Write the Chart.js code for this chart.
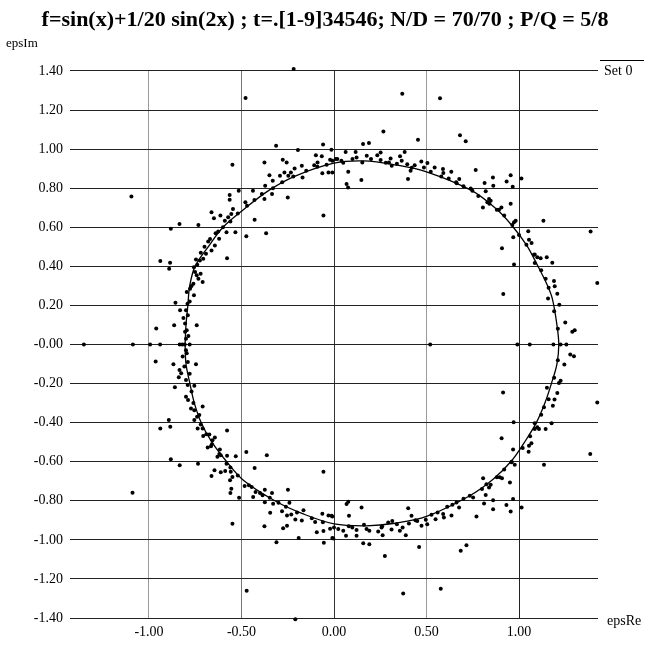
<!DOCTYPE html>
<html>
<head>
<meta charset="utf-8">
<script src="https://cdn.jsdelivr.net/npm/chart.js@4.4.0/dist/chart.umd.min.js"></script>
<style>
  body { margin: 0; background: #fff; }
  #wrap { width: 648px; height: 647px; }
</style>
</head>
<body>
<div id="wrap"><canvas id="grafico" width="648" height="647"></canvas></div>
<script>
const titulo = 'f=sin(x)+1/20 sin(2x) ; t=.[1-9]34546; N/D = 70/70 ; P/Q = 5/8';
const xTicks = [-1.0, -0.5, 0.0, 0.5, 1.0];
const xTickLabels = ['-1.00', '-0.50', '0.00', '0.50', '1.00'];
const yTickLabels = ['-1.40', '-1.20', '-1.00', '-0.80', '-0.60', '-0.40', '-0.20', '-0.00',
  '0.20', '0.40', '0.60', '0.80', '1.00', '1.20', '1.40'];

// curva (epsRe, epsIm)
const curva = [
  [-0.805, 0], [-0.80, 0.1], [-0.79, 0.2], [-0.78, 0.3], [-0.751, 0.40], [-0.68, 0.50], [-0.60, 0.60],
  [-0.49, 0.69], [-0.35, 0.79], [-0.21, 0.862], [0, 0.928], [0.16, 0.94], [0.33, 0.92], [0.5, 0.884],
  [0.74, 0.79], [0.87, 0.70], [0.955, 0.617], [1.04, 0.51], [1.10, 0.405], [1.15, 0.31], [1.18, 0.235],
  [1.205, 0.1], [1.215, 0], [1.205, -0.1], [1.175, -0.20], [1.14, -0.30], [1.094, -0.40], [1.03, -0.50],
  [0.96, -0.595], [0.86, -0.69], [0.734, -0.774], [0.5, -0.88], [0.33, -0.915], [0.176, -0.928],
  [0, -0.918], [-0.17, -0.866], [-0.32, -0.80], [-0.49, -0.695], [-0.58, -0.60], [-0.66, -0.50],
  [-0.716, -0.404], [-0.755, -0.30], [-0.778, -0.204], [-0.80, -0.1], [-0.805, 0]
];

// Set 0 - puntos
const puntosArriba = [
  [-0.218, 1.41], [-0.478, 1.262], [-1.095, 0.757], [-0.313, 1.017], [-0.195, 0.995], [-0.059, 1.024],
  [-0.098, 0.969], [-0.066, 0.963], [-0.014, 0.997], [0.009, 0.949], [-0.021, 0.946], [-0.089, 0.932],
  [-0.107, 0.918], [-0.063, 0.876], [-0.030, 0.881], [-0.174, 0.915], [-0.170, 0.855], [-0.213, 0.901],
  [-0.233, 0.881], [-0.247, 0.864], [-0.277, 0.946], [-0.256, 0.932], [-0.268, 0.881], [-0.292, 0.864],
  [-0.331, 0.838], [-0.349, 0.867], [-0.376, 0.932], [-0.372, 0.813], [-0.335, 0.770], [-0.376, 0.745],
  [-0.250, 0.753], [-0.057, 0.660], [-0.549, 0.920], [-0.438, 0.787], [-0.479, 0.728], [-0.515, 0.787],
  [-0.564, 0.765], [-0.564, 0.741], [-0.546, 0.694], [-0.555, 0.668], [-0.572, 0.651], [-0.590, 0.634],
  [-0.614, 0.660], [-0.649, 0.646], [-0.662, 0.677], [-0.429, 0.638], [-0.533, 0.575], [-0.474, 0.554],
  [-0.367, 0.570], [-0.581, 0.575], [-0.626, 0.578], [-0.621, 0.541], [-0.644, 0.507], [-0.680, 0.527],
  [-0.662, 0.481], [-0.692, 0.464], [-0.707, 0.439], [-0.725, 0.430], [-0.746, 0.435], [-0.739, 0.408],
  [-0.757, 0.396], [-0.751, 0.371], [-0.721, 0.362], [-0.742, 0.354], [-0.710, 0.320], [-0.733, 0.337],
  [-0.578, 0.442], [-0.733, 0.612], [-0.835, 0.617], [-0.882, 0.592], [-0.939, 0.427], [-0.886, 0.418],
  [-0.891, 0.388], [-0.760, 0.311], [-0.778, 0.286], [-0.796, 0.269], [-0.757, 0.252], [-0.857, 0.214],
  [-0.792, 0.209], [-0.832, 0.175], [-0.800, 0.175], [-0.814, 0.136], [-0.805, 0.107], [-0.864, 0.099],
  [-0.742, 0.099], [-0.961, 0.082], [-0.796, 0.073], [-0.787, 0.044], [-0.805, 0.065],
  [-0.72, 0.47], [-0.70, 0.50], [-0.67, 0.54], [-0.64, 0.57], [-0.60, 0.60], [-0.56, 0.63], [-0.52, 0.67],
  [-0.47, 0.71], [-0.43, 0.74], [-0.39, 0.77], [-0.33, 0.80], [-0.28, 0.83], [-0.22, 0.86], [-0.15, 0.89],
  [-0.09, 0.91], [-0.04, 0.92], [-0.77, 0.30], [-0.78, 0.22], [-0.79, 0.15], [-0.80, 0.03],
  [0.369, 1.284], [0.573, 1.260], [0.267, 1.090], [0.454, 1.048], [0.681, 1.071], [0.712, 1.041],
  [0.157, 1.026], [0.189, 1.031], [0.063, 0.986], [0.117, 0.986], [0.252, 0.983], [0.382, 0.986],
  [0.234, 0.969], [0.177, 0.966], [0.122, 0.957], [0.018, 0.949], [-0.009, 0.940], [0.040, 0.940],
  [0.306, 0.952], [0.357, 0.963], [0.366, 0.940], [0.153, 0.932], [0.252, 0.944], [0.297, 0.932],
  [0.396, 0.923], [0.472, 0.937], [0.505, 0.929], [0.436, 0.918], [0.312, 0.915], [0.414, 0.889],
  [0.486, 0.906], [0.523, 0.884], [0.544, 0.906], [0.589, 0.898], [0.591, 0.878], [0.634, 0.884],
  [0.077, 0.884], [-0.009, 0.881], [0.148, 0.842], [0.400, 0.847], [0.068, 0.821], [0.076, 0.804],
  [0.677, 0.847], [0.663, 0.825], [0.766, 0.893], [0.739, 0.799], [0.748, 0.787], [0.814, 0.827],
  [0.859, 0.855], [0.861, 0.813], [0.820, 0.784], [0.933, 0.835], [0.955, 0.867], [1.013, 0.850],
  [0.966, 0.808], [0.838, 0.745], [0.829, 0.728], [0.847, 0.736], [0.805, 0.701], [0.892, 0.690],
  [0.905, 0.701], [0.955, 0.721], [0.973, 0.626], [0.982, 0.634], [0.964, 0.612], [1.132, 0.633],
  [0.969, 0.549], [0.908, 0.493], [1.050, 0.580], [1.054, 0.536], [1.068, 0.519], [1.387, 0.578],
  [1.085, 0.461], [1.099, 0.447], [1.117, 0.442], [1.150, 0.446], [1.180, 0.418], [1.085, 0.417],
  [0.973, 0.410], [1.144, 0.337], [1.189, 0.325], [1.193, 0.298], [1.207, 0.260], [1.157, 0.235],
  [1.218, 0.204], [1.423, 0.315], [0.915, 0.259], [1.250, 0.112], [1.288, 0.065], [1.301, 0.073],
  [0.05, 0.93], [0.10, 0.95], [0.20, 0.95], [0.28, 0.93], [0.34, 0.925], [0.42, 0.905], [0.58, 0.86],
  [0.62, 0.85], [0.66, 0.83], [0.70, 0.81], [0.78, 0.76], [0.84, 0.72], [0.88, 0.69], [0.92, 0.66],
  [1.00, 0.56], [1.04, 0.51], [1.08, 0.46], [1.12, 0.38], [1.16, 0.29], [1.19, 0.17], [1.21, 0.08]
];

const puntosCero = [
  [-1.352, 0], [-1.087, 0], [-0.994, 0], [-0.940, 0], [-0.834, 0], [-0.820, 0], [-0.807, 0], [-0.780, 0],
  [0.520, 0], [0.991, 0], [1.058, 0], [1.186, 0], [1.225, 0], [1.256, 0]
];

const puntosAbajo = [
  [-0.964, -0.087], [-0.868, -0.101], [-0.746, -0.101], [-0.835, -0.130], [-0.809, -0.113], [-0.818, -0.062],
  [-0.796, -0.045], [-0.826, -0.147], [-0.839, -0.168], [-0.800, -0.182], [-0.791, -0.207], [-0.860, -0.219],
  [-0.755, -0.211], [-0.800, -0.267], [-0.789, -0.284], [-0.773, -0.327], [-0.755, -0.336], [-0.710, -0.318],
  [-0.728, -0.361], [-0.755, -0.387], [-0.737, -0.430], [-0.710, -0.430], [-0.893, -0.387], [-0.885, -0.421],
  [-0.939, -0.430], [-0.707, -0.469], [-0.674, -0.461], [-0.644, -0.476], [-0.657, -0.490], [-0.683, -0.527],
  [-0.665, -0.521], [-0.578, -0.440], [-0.617, -0.538], [-0.630, -0.575], [-0.612, -0.567], [-0.578, -0.570],
  [-0.531, -0.572], [-0.474, -0.550], [-0.363, -0.567], [-0.882, -0.587], [-0.834, -0.618], [-0.735, -0.610],
  [-1.089, -0.759], [-0.581, -0.610], [-0.646, -0.644], [-0.588, -0.647], [-0.558, -0.652], [-0.662, -0.673],
  [-0.612, -0.654], [-0.549, -0.678], [-0.562, -0.695], [-0.555, -0.738], [-0.560, -0.760], [-0.513, -0.784],
  [-0.483, -0.724], [-0.429, -0.632], [-0.445, -0.729], [-0.424, -0.755], [-0.437, -0.781], [-0.374, -0.743],
  [-0.386, -0.772], [-0.335, -0.760], [-0.347, -0.784], [-0.374, -0.807], [-0.329, -0.815], [-0.249, -0.743],
  [-0.241, -0.810], [-0.345, -0.861], [-0.281, -0.853], [-0.254, -0.875], [-0.231, -0.870], [-0.209, -0.896],
  [-0.165, -0.849], [-0.174, -0.901], [-0.102, -0.909], [-0.063, -0.866], [-0.057, -0.652], [-0.030, -0.875],
  [-0.009, -0.880], [-0.093, -0.961], [-0.057, -0.955], [-0.021, -0.943], [-0.549, -0.918], [-0.376, -0.930],
  [-0.275, -0.940], [-0.254, -0.928], [-0.191, -0.990], [-0.311, -1.012], [-0.055, -1.015], [-0.009, -0.990],
  [-0.472, -1.260], [-0.209, -1.406],
  [-0.80, -0.03], [-0.79, -0.09], [-0.78, -0.15], [-0.77, -0.24], [-0.76, -0.30], [-0.74, -0.37],
  [-0.72, -0.41], [-0.69, -0.46], [-0.62, -0.56], [-0.66, -0.51], [-0.56, -0.63], [-0.52, -0.67],
  [-0.46, -0.72], [-0.40, -0.76], [-0.30, -0.81], [-0.26, -0.83], [-0.20, -0.86], [-0.12, -0.89], [-0.06, -0.91],
  [1.277, -0.051], [1.297, -0.060], [1.245, -0.103], [1.225, -0.185], [1.216, -0.197], [1.151, -0.222],
  [1.207, -0.248], [1.192, -0.282], [1.183, -0.313], [1.423, -0.297], [0.914, -0.246], [1.135, -0.321],
  [1.176, -0.403], [1.085, -0.403], [1.144, -0.432], [1.099, -0.424], [1.108, -0.432], [1.085, -0.432],
  [0.971, -0.398], [0.906, -0.480], [1.054, -0.518], [1.067, -0.506], [1.052, -0.549], [0.968, -0.537],
  [1.135, -0.615], [1.385, -0.561], [0.959, -0.603], [0.977, -0.615], [0.896, -0.680], [0.908, -0.685],
  [0.806, -0.685], [0.824, -0.715], [0.838, -0.732], [0.847, -0.718], [0.951, -0.706], [0.968, -0.791],
  [1.014, -0.834], [0.932, -0.822], [0.955, -0.855], [0.820, -0.771], [0.811, -0.814], [0.860, -0.797],
  [0.860, -0.843], [0.734, -0.774], [0.752, -0.783], [0.770, -0.880], [0.662, -0.809], [0.676, -0.834],
  [0.635, -0.875], [0.612, -0.831], [0.590, -0.868], [0.594, -0.885], [0.549, -0.894], [0.527, -0.872],
  [0.504, -0.920], [0.496, -0.897], [0.473, -0.928], [0.450, -0.903], [0.419, -0.877], [0.401, -0.838],
  [0.405, -0.916], [0.388, -0.976], [0.371, -0.937], [0.356, -0.954], [0.460, -1.036], [0.315, -0.903],
  [0.311, -0.947], [0.293, -0.911], [0.257, -0.937], [0.263, -0.976], [0.239, -0.957], [0.275, -1.082],
  [0.191, -0.954], [0.176, -0.945], [0.162, -0.923], [0.158, -1.017], [0.191, -1.022], [0.149, -0.834],
  [0.122, -0.949], [0.122, -0.979], [0.099, -0.937], [0.081, -0.877], [0.077, -0.805], [0.068, -0.817],
  [0.065, -0.979], [0.050, -0.954], [0.023, -0.945], [0.000, -0.937], [-0.004, -0.993], [-0.013, -0.877],
  [0.685, -1.056], [0.716, -1.027], [0.374, -1.275], [0.577, -1.250],
  [1.21, -0.08], [1.19, -0.17], [1.16, -0.28], [1.12, -0.36], [1.06, -0.47], [1.02, -0.53], [0.96, -0.60],
  [0.92, -0.64], [0.88, -0.68], [0.80, -0.74], [0.70, -0.79], [0.64, -0.82], [0.56, -0.86], [0.44, -0.90],
  [0.34, -0.92], [0.26, -0.93], [0.08, -0.93]
];

const xGridColors = ['#9a9a9a', '#777777', '#333333', '#9a9a9a', '#222222'];

const toXY = (arr) => arr.map(p => ({ x: p[0], y: p[1] }));

const textos = {
    id: 'textos',
    afterDraw(chart) {
        const c = chart.ctx;
        c.save();
        c.fillStyle = '#000';
        c.strokeStyle = '#000';
        c.font = 'bold 22px "Liberation Serif"';
        c.textAlign = 'center';
        c.textBaseline = 'middle';
        c.fillText(titulo, 325, 20);
        c.font = '13px "Liberation Serif"';
        c.textAlign = 'left';
        c.fillText('epsIm', 6, 44);
        c.font = '14px "Liberation Serif"';
        c.fillText('epsRe', 607, 621);
        c.fillText('Set 0', 604, 71);
        c.lineWidth = 1;
        c.beginPath();
        c.moveTo(600, 60.5);
        c.lineTo(644, 60.5);
        c.stroke();
        c.restore();
    }
};

document.addEventListener('DOMContentLoaded', function () {
    const ctx = document.getElementById('grafico').getContext('2d');
    new Chart(ctx, {
        type: 'scatter',
        data: {
            datasets: [{
                label: 'Set 0',
                data: toXY(puntosArriba.concat(puntosCero, puntosAbajo)),
                backgroundColor: '#000',
                borderColor: '#000',
                pointRadius: 2,
                pointBorderWidth: 0,
                clip: false
            },
            {
                label: 'curva',
                data: toXY(curva),
                showLine: true,
                borderColor: '#000',
                borderWidth: 1.3,
                pointRadius: 0,
                tension: 0.35,
                fill: false
            }]
        },
        options: {
            responsive: false,
            animation: false,
            layout: { padding: { top: 71, right: 50, left: 0, bottom: 0 } },
            scales: {
                x: {
                    type: 'linear',
                    min: -1.427,
                    max: 1.427,
                    afterBuildTicks: (axis) => { axis.ticks = xTicks.map(v => ({ value: v })); },
                    afterFit: (axis) => { axis.height = 29; },
                    ticks: {
                        color: '#000',
                        padding: 6,
                        maxRotation: 0,
                        font: { family: '"Liberation Serif"', size: 14 },
                        callback: (value, i) => xTickLabels[i]
                    },
                    grid: {
                        drawTicks: false,
                        lineWidth: 1,
                        color: (c) => xGridColors[c.index] || '#888'
                    },
                    border: { display: false }
                },
                y: {
                    min: -1.4,
                    max: 1.4,
                    afterBuildTicks: (axis) => {
                        axis.ticks = yTickLabels.map((t, i) => ({ value: -1.4 + i * 0.2 }));
                    },
                    afterFit: (axis) => { axis.width = 70; },
                    ticks: {
                        color: '#000',
                        padding: 7,
                        font: { family: '"Liberation Serif"', size: 14 },
                        callback: (value, i) => yTickLabels[i]
                    },
                    grid: {
                        drawTicks: false,
                        lineWidth: 1,
                        color: '#222'
                    },
                    border: { display: false }
                }
            },
            plugins: {
                legend: { display: false },
                title: { display: false },
                tooltip: { enabled: false }
            }
        },
        plugins: [textos]
    });
});
</script>
</body>
</html>
